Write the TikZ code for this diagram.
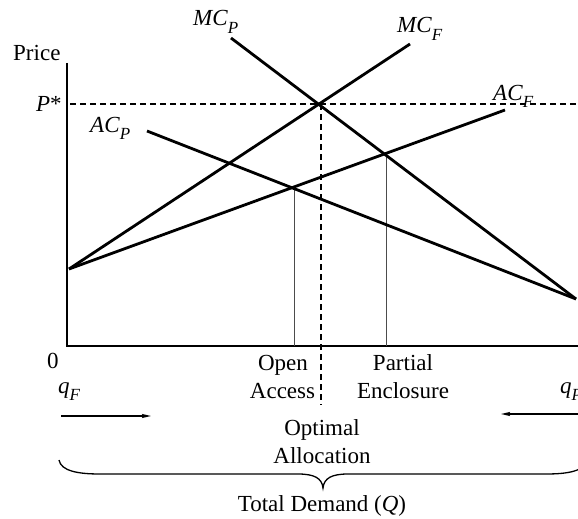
\documentclass[tikz,border=0pt]{standalone}
\usepackage{fontspec}
\setmainfont{Liberation Serif}
\usetikzlibrary{arrows.meta}
\newcommand\lbl[2]{\textit{#1}\raisebox{-0.32em}{\fontsize{17}{17}\selectfont\textit{#2}}}
\tikzset{
  txt/.style={inner sep=0pt, anchor=base, font=\fontsize{23}{28}\selectfont},
  txtw/.style={txt, anchor=base west},
  curve/.style={line width=2.8pt},
  axis/.style={line width=1.3pt},
  guide/.style={line width=1.4pt, dash pattern=on 6pt off 4pt},
  drop/.style={line width=0.8pt, black!70},
  flow/.style={line width=1.3pt, -{Stealth[length=9pt,width=4pt,inset=1pt]}},
  brace/.style={line width=1.3pt}
}
\begin{document}
\begin{tikzpicture}[x=1pt,y=-1pt]
\useasboundingbox (0,0) rectangle (578,519);
% axes
\coordinate (ytop) at (67,63);
\coordinate (org) at (67,346);
\coordinate (xend) at (580,346);
\draw[axis] (ytop) -- (org) -- (xend);
% curve end points
\coordinate (mcpA) at (231,38);
\coordinate (mcpB) at (576,299);
\coordinate (mcfA) at (69,269);
\coordinate (mcfB) at (410,44);
\coordinate (acfB) at (505,110);
\coordinate (acpA) at (147,131);
% guides
\coordinate (pst) at (70,104);
\coordinate (pend) at (580,104);
\coordinate (opt) at (321,104);
\coordinate (optb) at (321,405);
\draw[guide] (pst) -- (pend);
\draw[guide] (opt) -- (optb);
\coordinate (oaT) at (294,188);
\coordinate (oaB) at (294,346);
\coordinate (peT) at (386,154);
\coordinate (peB) at (386,346);
\draw[drop] (oaT) -- (oaB);
\draw[drop] (peT) -- (peB);
% curves
\draw[curve] (mcpA) -- (mcpB);
\draw[curve] (mcfA) -- (mcfB);
\draw[curve] (mcfA) -- (acfB);
\draw[curve] (acpA) -- (mcpB);
% labels
\node[txtw] (price) at (13,61) {Price};
\node[txtw] (pstar) at (36,111) {\textit{P}*};
\node[txtw] (lmcp) at (193,26) {\lbl{MC}{P}};
\node[txtw] (lmcf) at (397,33) {\lbl{MC}{F}};
\node[txtw] (lacf) at (493,100) {\lbl{AC}{F}};
\node[txtw] (lacp) at (90,132) {\lbl{AC}{P}};
\node[txtw] (zero) at (47,368) {0};
\node[txtw] (qf) at (58,393) {\lbl{q}{F}};
\node[txtw] (qp) at (560,393) {\lbl{q}{P}};
\node[txt] (open) at (283,370) {Open};
\node[txt] (access) at (282.5,398) {Access};
\node[txt] (partial) at (403,370) {Partial};
\node[txt] (encl) at (403,398) {Enclosure};
\node[txt] (optimal) at (322,435) {Optimal};
\node[txt] (alloc) at (322,463) {Allocation};
\node[txt] (total) at (322,511) {Total Demand (\textit{Q})};
% flow arrows
\coordinate (la1) at (61,416);
\coordinate (la2) at (151,416);
\coordinate (ra1) at (580,414);
\coordinate (ra2) at (501,414);
\draw[flow] (la1) -- (la2);
\draw[flow] (ra1) -- (ra2);
% brace
\coordinate (bl) at (59,460);
\coordinate (bt) at (323,488);
\coordinate (br) at (587,460);
\draw[brace] (bl) .. controls (61,471) and (78,474) .. (100,474) -- (298,474)
  .. controls (314,474) and (322,478) .. (bt)
  .. controls (324,478) and (332,474) .. (348,474) -- (546,474)
  .. controls (568,474) and (585,471) .. (br);
\end{tikzpicture}
\end{document}
